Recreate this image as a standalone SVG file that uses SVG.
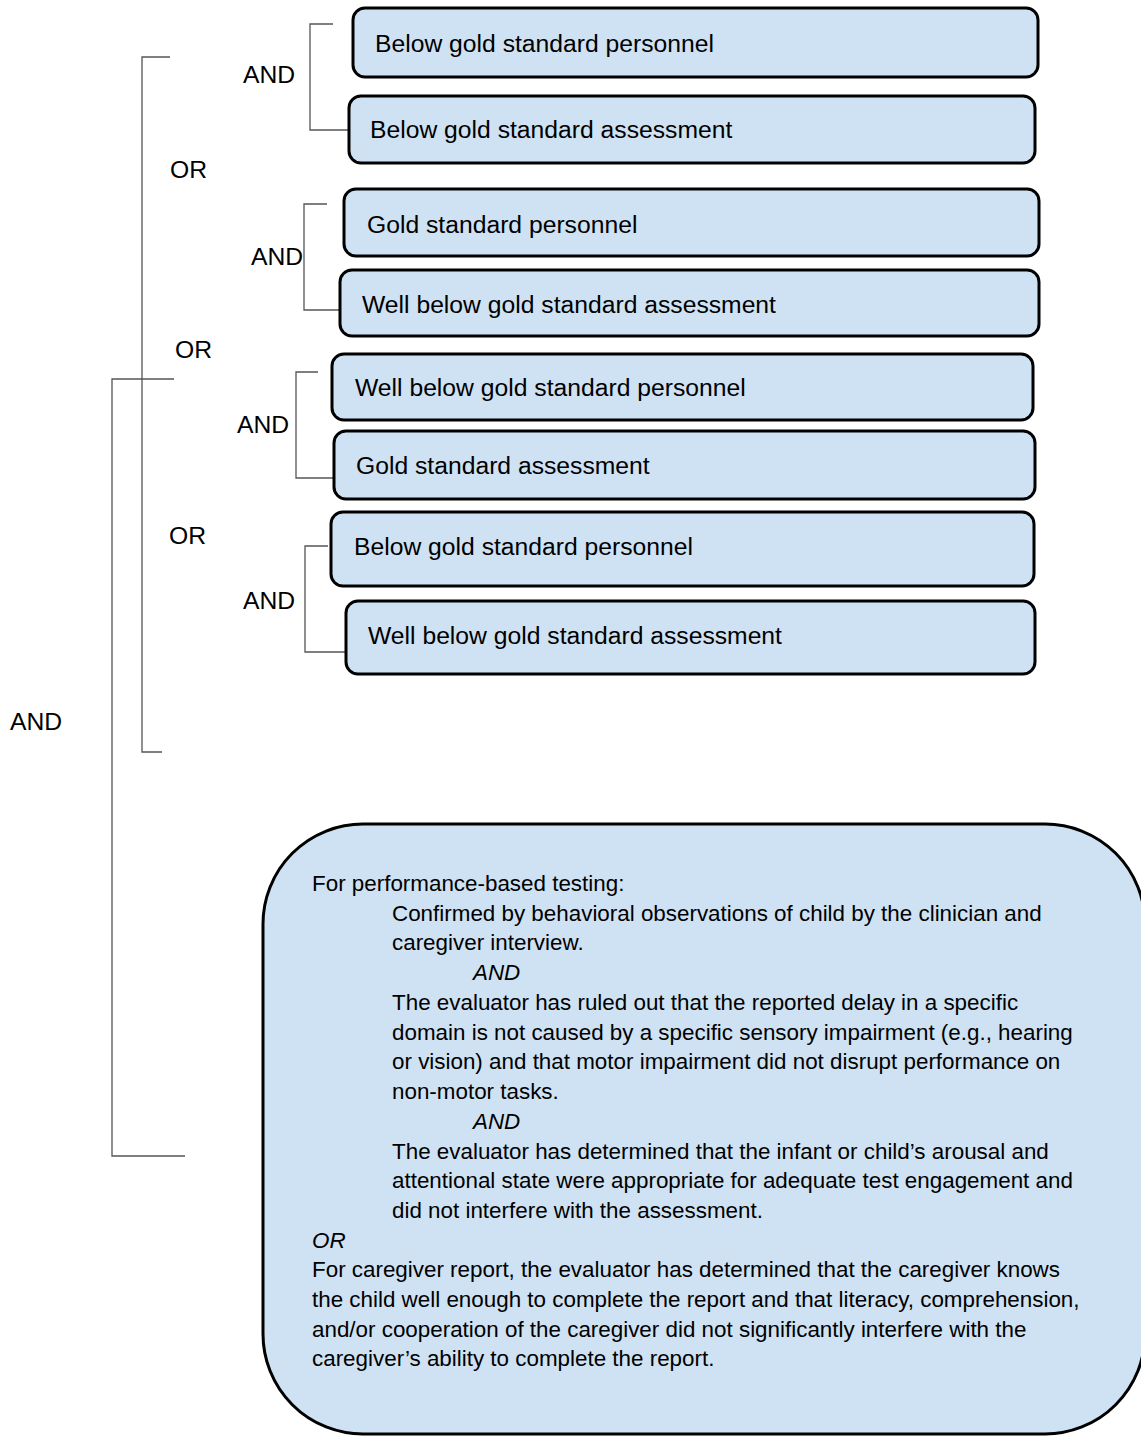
<svg xmlns="http://www.w3.org/2000/svg" width="1141" height="1436" viewBox="0 0 1141 1436">
<style>
.box{fill:#cfe2f3;stroke:#000;stroke-width:3}
.t{font-family:"Liberation Sans",Arial,sans-serif;font-size:24.7px;fill:#000}
.p{font-family:"Liberation Sans",Arial,sans-serif;font-size:22.4px;fill:#000}
.i{font-style:italic}
.br{fill:none;stroke:#555;stroke-width:1.3}
</style>
<rect width="1141" height="1436" fill="#fff"/>
<g id="connectors">
<path class="br" d="M333 24H310V130H348"/>
<path class="br" d="M327 204H304V310H340"/>
<path class="br" d="M318 372H296V478H333"/>
<path class="br" d="M328 546H305V652H345"/>
<path class="br" d="M170 57H142V752H162"/>
<path class="br" d="M174 379H112V1156H185"/>
</g>
<g id="labels">
<text class="t" x="243" y="83">AND</text>
<text class="t" x="170" y="178">OR</text>
<text class="t" x="251" y="265">AND</text>
<text class="t" x="175" y="358">OR</text>
<text class="t" x="237" y="433">AND</text>
<text class="t" x="169" y="544">OR</text>
<text class="t" x="243" y="609">AND</text>
<text class="t" x="10" y="730">AND</text>
</g>
<g id="n1"><rect class="box" x="353" y="8" width="685" height="69" rx="12"/><text class="t" x="375" y="52">Below gold standard personnel</text></g>
<g id="n2"><rect class="box" x="349" y="96" width="686" height="67" rx="12"/><text class="t" x="370" y="138">Below gold standard assessment</text></g>
<g id="n3"><rect class="box" x="344" y="189" width="695" height="67" rx="12"/><text class="t" x="367" y="233">Gold standard personnel</text></g>
<g id="n4"><rect class="box" x="340" y="270" width="699" height="66" rx="12"/><text class="t" x="362" y="313">Well below gold standard assessment</text></g>
<g id="n5"><rect class="box" x="332" y="354" width="701" height="66" rx="12"/><text class="t" x="355" y="396">Well below gold standard personnel</text></g>
<g id="n6"><rect class="box" x="334" y="431" width="701" height="68" rx="12"/><text class="t" x="356" y="474">Gold standard assessment</text></g>
<g id="n7"><rect class="box" x="331" y="512" width="703" height="74" rx="12"/><text class="t" x="354" y="555">Below gold standard personnel</text></g>
<g id="n8"><rect class="box" x="346" y="601" width="689" height="73" rx="12"/><text class="t" x="368" y="644">Well below gold standard assessment</text></g>
<g id="n9">
<rect class="box" x="263" y="824" width="882" height="610" rx="100"/>
<text class="p" x="312" y="891">For performance-based testing:</text>
<text class="p" x="392" y="921">Confirmed by behavioral observations of child by the clinician and</text>
<text class="p" x="392" y="950">caregiver interview.</text>
<text class="p i" x="473" y="980">AND</text>
<text class="p" x="392" y="1010">The evaluator has ruled out that the reported delay in a specific</text>
<text class="p" x="392" y="1040">domain is not caused by a specific sensory impairment (e.g., hearing</text>
<text class="p" x="392" y="1069">or vision) and that motor impairment did not disrupt performance on</text>
<text class="p" x="392" y="1099">non-motor tasks.</text>
<text class="p i" x="473" y="1129">AND</text>
<text class="p" x="392" y="1159">The evaluator has determined that the infant or child’s arousal and</text>
<text class="p" x="392" y="1188">attentional state were appropriate for adequate test engagement and</text>
<text class="p" x="392" y="1218">did not interfere with the assessment.</text>
<text class="p i" x="312" y="1248">OR</text>
<text class="p" x="312" y="1277">For caregiver report, the evaluator has determined that the caregiver knows</text>
<text class="p" x="312" y="1307">the child well enough to complete the report and that literacy, comprehension,</text>
<text class="p" x="312" y="1337">and/or cooperation of the caregiver did not significantly interfere with the</text>
<text class="p" x="312" y="1366">caregiver’s ability to complete the report.</text>
</g>
</svg>
